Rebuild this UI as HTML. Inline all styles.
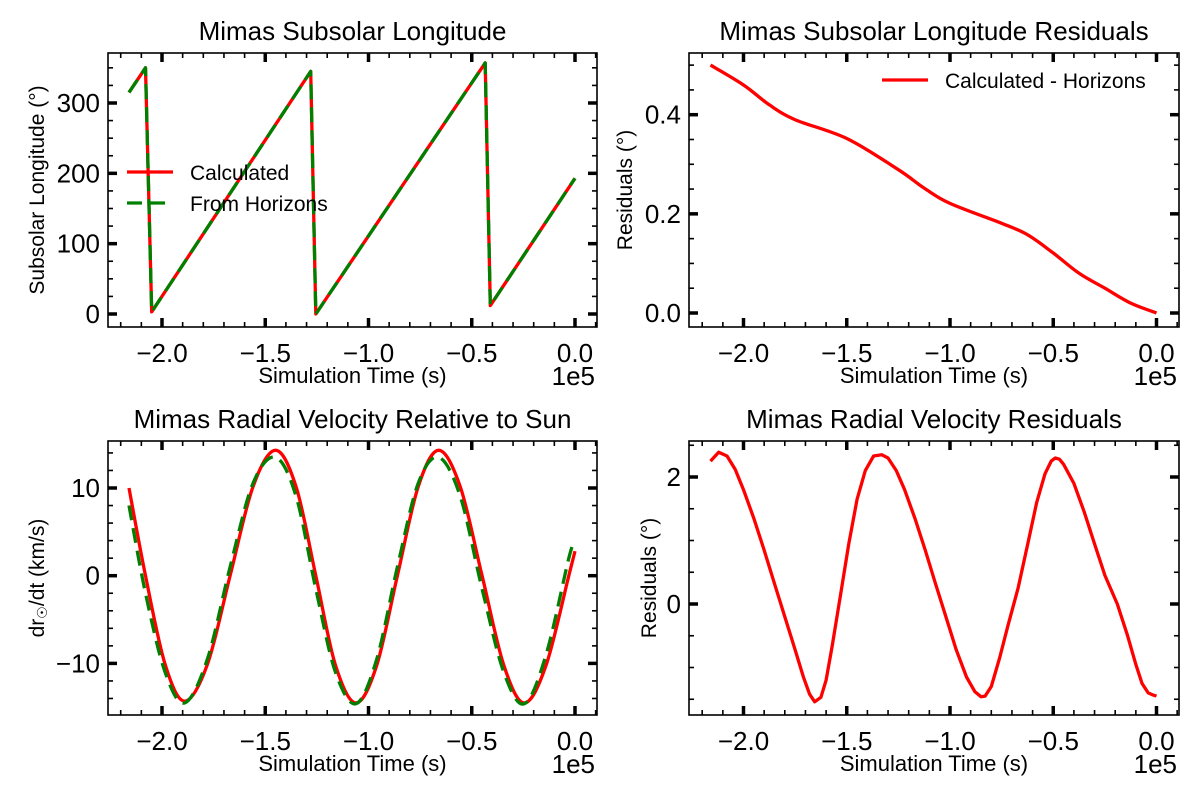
<!DOCTYPE html>
<html><head><meta charset="utf-8"><style>
html,body{margin:0;padding:0;background:#fff;}
svg{display:block;font-family:"Liberation Sans","DejaVu Sans",sans-serif;}
</style></head><body>
<svg id="fig" width="1200" height="800" viewBox="0 0 1200 800"></svg>
<script>
// ---- data ----
const lonTimes = [-2.16,-2.08,-2.05,-1.28,-1.255,-0.435,-0.41,0];
const lonCalc = [315,350,3,345,0,357,12,193];
const lonHoriz = [315,350,3,345,0,357,12,193];

const resLonTimes = [-2.16,-2.0,-1.875,-1.75,-1.5,-1.25,-1.125,-1.0,-0.75,-0.625,-0.5,-0.375,-0.25,-0.125,0];
const resLonVals = [0.50,0.46,0.42,0.39,0.352,0.289,0.252,0.221,0.181,0.158,0.121,0.08,0.05,0.02,0.0];

const velTimes = [-2.16,-2.08,-1.985,-1.89,-1.78,-1.67,-1.56,-1.45,-1.35,-1.255,-1.16,-1.06,-0.96,-0.86,-0.76,-0.66,-0.555,-0.45,-0.345,-0.245,-0.14,-0.03,0];
const velCalc = [10,0,-10.1,-14.3,-10.1,0,10.1,14.3,10.1,0,-10.2,-14.5,-10.2,0,10.1,14.3,10.1,0,-10.2,-14.5,-10.2,0,2.8];
const velHoriz = [8,-2,-11,-14.5,-9.5,1,10.5,13.5,9,-1.5,-11,-14.6,-9.5,1,10.5,13.5,9,-1.5,-11,-14.6,-9,2,4];

const resVelTimes = [-2.16,-2.12,-2.08,-2.04,-2.0,-1.95,-1.9,-1.85,-1.8,-1.75,-1.71,-1.68,-1.655,-1.625,-1.6,-1.57,-1.53,-1.49,-1.45,-1.41,-1.37,-1.33,-1.3,-1.26,-1.22,-1.17,-1.12,-1.07,-1.02,-0.97,-0.92,-0.88,-0.85,-0.83,-0.8,-0.76,-0.72,-0.67,-0.62,-0.58,-0.54,-0.51,-0.49,-0.47,-0.45,-0.4,-0.35,-0.3,-0.25,-0.19,-0.14,-0.1,-0.07,-0.04,-0.02,0];
const resVelVals = [2.25,2.39,2.33,2.12,1.8,1.35,0.85,0.32,-0.2,-0.72,-1.15,-1.42,-1.54,-1.47,-1.2,-0.65,0.15,0.95,1.65,2.1,2.33,2.35,2.3,2.1,1.8,1.35,0.85,0.32,-0.2,-0.72,-1.15,-1.38,-1.46,-1.45,-1.3,-0.85,-0.35,0.25,1.0,1.6,2.05,2.25,2.3,2.28,2.2,1.9,1.45,0.95,0.45,0.0,-0.5,-0.95,-1.25,-1.4,-1.43,-1.45];

const xMajor = [-2.0,-1.5,-1.0,-0.5,0.0];
const xMajorLabels = ["\u22122.0","\u22121.5","\u22121.0","\u22120.5","0.0"];

const svg = document.getElementById('fig');
const NS = 'http://www.w3.org/2000/svg';
function mk(tag, attrs, parent){
  const e = document.createElementNS(NS, tag);
  for (const k in attrs) e.setAttribute(k, attrs[k]);
  (parent||svg).appendChild(e);
  return e;
}
function smoothPath(P){
  let d = 'M' + P[0][0].toFixed(1) + ',' + P[0][1].toFixed(1);
  for (let i = 0; i < P.length - 1; i++) {
    const p0 = P[Math.max(0,i-1)], p1 = P[i], p2 = P[i+1], p3 = P[Math.min(P.length-1,i+2)];
    const c1 = [p1[0] + (p2[0]-p0[0])/6, p1[1] + (p2[1]-p0[1])/6];
    const c2 = [p2[0] - (p3[0]-p1[0])/6, p2[1] - (p3[1]-p1[1])/6];
    d += ' C' + c1.map(v=>v.toFixed(1)).join(',') + ' ' + c2.map(v=>v.toFixed(1)).join(',') + ' ' + p2.map(v=>v.toFixed(1)).join(',');
  }
  return d;
}

function panel(p){
  const g = mk('g', {});
  
  
  const X = v => p.x0 + (v - p.xv0) / (p.xv1 - p.xv0) * (p.x1 - p.x0);
  const Y = v => p.y0 + (v - p.yv0) / (p.yv1 - p.yv0) * (p.y1 - p.y0);
  const L = p.L, R = p.R, T = p.T, B = p.B;
  const tg = mk('g', {stroke:'#000'}, g);
  
  
  for (let v = -2.2; v <= 0.11; v += 0.1) {
    const vv = Math.round(v*10)/10;
    const xx = X(vv); if (xx < L || xx > R) continue;
    const major = Math.abs(vv*2 - Math.round(vv*2)) < 1e-6;
    const len = major ? 9 : 5, w = major ? 3.5 : 1.6;
    mk('line', {x1:xx, x2:xx, y1:B, y2:B-len, 'stroke-width':w}, tg);
    mk('line', {x1:xx, x2:xx, y1:T, y2:T+len, 'stroke-width':w}, tg);
  }
  for (let i = Math.ceil(p.yMin/p.yMinor); i*p.yMinor <= p.yMax; i++) {
    const v = i*p.yMinor, yy = Y(v);
    if (yy < T || yy > B) continue;
    const major = Math.abs(v/p.yMajor - Math.round(v/p.yMajor)) < 1e-6;
    const len = major ? 9 : 5, w = major ? 3.5 : 1.6;
    mk('line', {x1:L, x2:L+len, y1:yy, y2:yy, 'stroke-width':w}, tg);
    mk('line', {x1:R, x2:R-len, y1:yy, y2:yy, 'stroke-width':w}, tg);
    if (major) {
      const t = mk('text', {x:L-8, y:yy+9, 'text-anchor':'end', 'font-size':26, fill:'#000', stroke:'none'}, g);
      
      
      t.textContent = p.yfmt(v);
    }
  }
  xMajor.forEach((v, i) => {
    const t = mk('text', {x:X(v), y:B+35, 'text-anchor':'middle', 'font-size':26, fill:'#000'}, g);
    
    
    t.textContent = xMajorLabels[i];
  });
  p.series.forEach(s => {
    const P = s.t.map((t, i) => [X(t), Y(s.v[i])]);
    const attrs = {fill:'none', stroke:s.color, 'stroke-width':3.3, 'stroke-linejoin':'round', 'stroke-dasharray':s.dash || 'none'};
    let el;
    if (s.smooth) { attrs.d = smoothPath(P); el = mk('path', attrs, g); }
    else { attrs.points = P.map(q=>q[0].toFixed(1)+','+q[1].toFixed(1)).join(' '); el = mk('polyline', attrs, g); }
    
    
  });
  const fr = mk('rect', {x:L, y:T, width:R-L, height:B-T, fill:'none', stroke:'#000', 'stroke-width':1.6}, g);
  
  
  const tt = mk('text', {x:(L+R)/2, y:T-13, 'text-anchor':'middle', 'font-size':26, fill:'#000'}, g);
  
  
  tt.textContent = p.title;
  const xl = mk('text', {x:(L+R)/2, y:B+56, 'text-anchor':'middle', 'font-size':22, fill:'#000'}, g);
  
  
  xl.textContent = 'Simulation Time (s)';
  const ex = mk('text', {x:R-2, y:B+58, 'text-anchor':'end', 'font-size':26, fill:'#000'}, g);
  
  
  ex.textContent = '1e5';
  const yl = mk('text', {x:0, y:0, 'text-anchor':'middle', 'font-size':21, fill:'#000', transform:`translate(${p.ylx},${(T+B)/2}) rotate(-90)`}, g);
  
  
  yl.innerHTML = p.ylabel;
  return {g, X, Y};
}

panel({name:'subsolar-longitude-panel', title:'Mimas Subsolar Longitude',
  L:108, R:597, T:53, B:327, x0:162, x1:575, xv0:-2, xv1:0, y0:314, y1:103, yv0:0, yv1:300,
  yMin:-25, yMax:400, yMinor:25, yMajor:100, yfmt:v=>String(v), ylx:44,
  ylabel:'Subsolar Longitude (°)',
  series:[{t:lonTimes, v:lonCalc, color:'#ff0000', name:'calculated-line'},
          {t:lonTimes, v:lonHoriz, color:'#008000', dash:'15,8', name:'horizons-line'}]});
{
  const lg = mk('g', {});  
  mk('line',{x1:127,x2:173,y1:172,y2:172,stroke:'#ff0000','stroke-width':3.3},lg);
  mk('line',{x1:127,x2:173,y1:203,y2:203,stroke:'#008000','stroke-width':3.3,'stroke-dasharray':'15,8'},lg);
  const a = mk('text',{x:190,y:180,'font-size':21},lg);   a.textContent='Calculated';
  const b = mk('text',{x:190,y:211,'font-size':21},lg);   b.textContent='From Horizons';
}
panel({name:'longitude-residuals-panel', title:'Mimas Subsolar Longitude Residuals',
  L:689, R:1179, T:53, B:327, x0:743.5, x1:1156.5, xv0:-2, xv1:0, y0:313, y1:114.7, yv0:0, yv1:0.4,
  yMin:-0.05, yMax:0.6, yMinor:0.05, yMajor:0.2, yfmt:v=>v.toFixed(1), ylx:632,
  ylabel:'Residuals (°)',
  series:[{t:resLonTimes, v:resLonVals, color:'#ff0000', name:'residual-line', smooth:true}]});
{
  const lg = mk('g', {});  
  mk('line',{x1:882,x2:928,y1:80,y2:80,stroke:'#ff0000','stroke-width':3.3},lg);
  const a = mk('text',{x:945,y:88,'font-size':21},lg);   a.textContent='Calculated - Horizons';
}
panel({name:'radial-velocity-panel', title:'Mimas Radial Velocity Relative to Sun',
  L:108, R:597, T:441, B:715, x0:162, x1:575, xv0:-2, xv1:0, y0:575.7, y1:488, yv0:0, yv1:10,
  yMin:-20, yMax:20, yMinor:2, yMajor:10, yfmt:v=>v<0?'\u2212'+Math.abs(v):String(v), ylx:44,
  ylabel:'dr<tspan font-size="14" dy="3">☉</tspan><tspan dy="-3">/dt (km/s)</tspan>',
  series:[{t:velTimes, v:velCalc, color:'#ff0000', name:'calculated-velocity-line', smooth:true},
          {t:velTimes, v:velHoriz, color:'#008000', dash:'15,8', name:'horizons-velocity-line', smooth:true}]});
panel({name:'velocity-residuals-panel', title:'Mimas Radial Velocity Residuals',
  L:689, R:1179, T:441, B:715, x0:743.5, x1:1156.5, xv0:-2, xv1:0, y0:604, y1:477, yv0:0, yv1:2,
  yMin:-2, yMax:3, yMinor:0.5, yMajor:2, yfmt:v=>String(v), ylx:656,
  ylabel:'Residuals (°)',
  series:[{t:resVelTimes, v:resVelVals, color:'#ff0000', name:'velocity-residual-line'}]});
</script>
</body></html>
